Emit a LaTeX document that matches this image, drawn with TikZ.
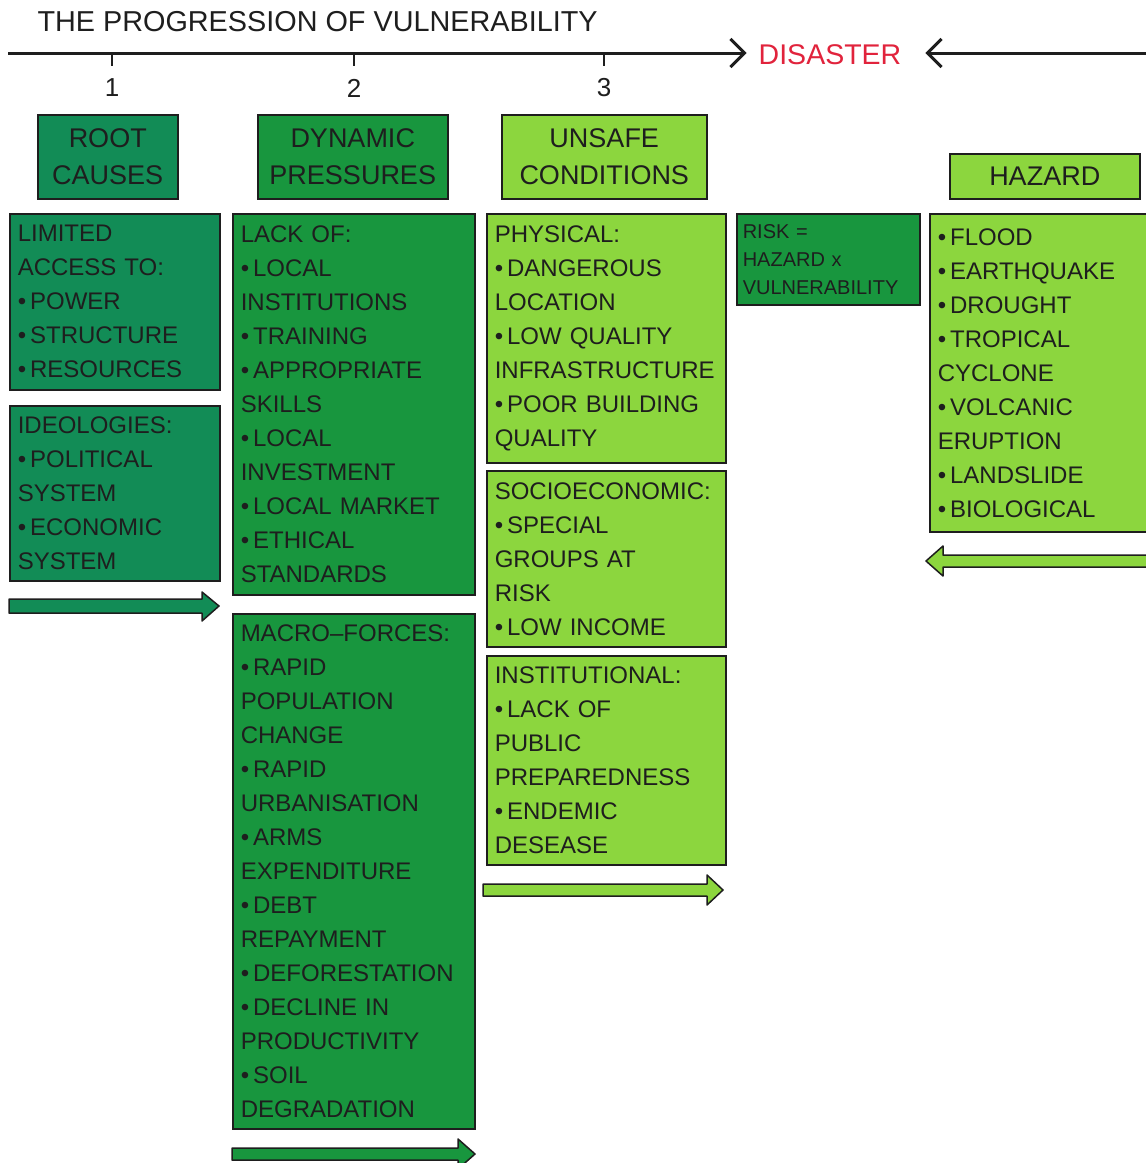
\documentclass[tikz,border=0pt]{standalone}
\usepackage{fontspec}
\setmainfont{Liberation Sans}
\usetikzlibrary{arrows.meta}

\definecolor{rootgreen}{RGB}{18,140,86}
\definecolor{dyngreen}{RGB}{24,150,62}
\definecolor{litegreen}{RGB}{140,214,62}
\definecolor{inkdark}{RGB}{30,30,30}
\definecolor{disred}{RGB}{225,35,60}

\newcommand{\bul}{\textbullet\hspace{4pt}}

\tikzset{
  headbox/.style={draw=inkdark, line width=1.5pt, anchor=north west, inner sep=0pt, align=center, text=inkdark, font=\fontsize{27}{37}\selectfont},
  listbox/.style={draw=inkdark, line width=1.5pt, anchor=north west, inner xsep=8pt, inner ysep=0pt, align=left, text=inkdark, font=\fontsize{24}{34}\selectfont},
  fatarrow/.style={draw=inkdark, line width=1.5pt, line join=round},
  timeline/.style={line width=3pt, draw=inkdark, -{Straight Barb[length=14pt,width=28pt,line width=3pt]}}
}

\begin{document}
\begin{tikzpicture}[x=1pt,y=1pt,yscale=-1]
	\fill[white] (0,0) rectangle (1146,1163);
	\useasboundingbox (0,0) rectangle (1146,1163);
	
	% title and time line
	\node[anchor=west, text=inkdark, font=\fontsize{28.8}{32}\selectfont] (title) at (34,22) {THE PROGRESSION OF VULNERABILITY};
	\node[text=disred, inner xsep=12pt, font=\fontsize{28.5}{32}\selectfont] (disaster) at (830,55) {DISASTER};
	\coordinate (tl start) at (8,53);
	\coordinate (tr start) at (1150,53);
	\draw[timeline] (tl start) -- (tl start -| disaster.west);
	\draw[timeline, shorten >=12pt] (tr start) -- (tr start -| disaster.east);
	\foreach \x/\n in {112/1,354/2,604/3} {
		\draw[line width=2pt, inkdark] (\x,53) -- (\x,66);
		\node[text=inkdark, font=\fontsize{26}{30}\selectfont] (num\n) at (\x,88) {\n};
	}
	
	% column headers
	\node[headbox, fill=rootgreen, minimum width=140pt, minimum height=84pt] (root) at (37,114) {ROOT\\CAUSES};
	\node[headbox, fill=dyngreen, minimum width=190pt, minimum height=84pt] (dyn) at (257,114) {DYNAMIC\\PRESSURES};
	\node[headbox, fill=litegreen, minimum width=205pt, minimum height=84pt] (unsafe) at (501,114) {UNSAFE\\CONDITIONS};
	\node[headbox, fill=litegreen, minimum width=190pt, minimum height=45pt] (hazard) at (949,153) {HAZARD};
	
	% root causes
	\node[listbox, fill=rootgreen, text width=194pt, minimum height=176pt] (limited) at (9,213) {LIMITED\\ACCESS TO:\\\bul POWER\\\bul STRUCTURE\\\bul RESOURCES};
	\node[listbox, fill=rootgreen, text width=194pt, minimum height=175pt] (ideol) at (9,405) {IDEOLOGIES:\\\bul POLITICAL\\SYSTEM\\\bul ECONOMIC\\SYSTEM};
	\draw[fatarrow, fill=rootgreen] (9,599) -- (202,599) -- (202,592) -- (219,606) -- (202,621) -- (202,613) -- (9,613) -- cycle;
	
	% dynamic pressures
	\node[listbox, fill=dyngreen, text width=226pt, minimum height=381pt] (lack) at (232,213) {LACK OF:\\\bul LOCAL\\INSTITUTIONS\\\bul TRAINING\\\bul APPROPRIATE\\SKILLS\\\bul LOCAL\\INVESTMENT\\\bul LOCAL MARKET\\\bul ETHICAL\\STANDARDS};
	\node[listbox, fill=dyngreen, text width=226pt, minimum height=515pt] (macro) at (232,613) {MACRO--FORCES:\\\bul RAPID\\POPULATION\\CHANGE\\\bul RAPID\\URBANISATION\\\bul ARMS\\EXPENDITURE\\\bul DEBT\\REPAYMENT\\\bul DEFORESTATION\\\bul DECLINE IN\\PRODUCTIVITY\\\bul SOIL\\DEGRADATION};
	\draw[fatarrow, fill=dyngreen] (232,1148) -- (458,1148) -- (458,1139) -- (475,1154) -- (458,1169) -- (458,1160) -- (232,1160) -- cycle;
	
	% unsafe conditions
	\node[listbox, fill=litegreen, text width=223pt, minimum height=249pt] (physical) at (486,213) {PHYSICAL:\\\bul DANGEROUS\\LOCATION\\\bul LOW QUALITY\\INFRASTRUCTURE\\\bul POOR BUILDING\\QUALITY};
	\node[listbox, fill=litegreen, text width=223pt, minimum height=176pt] (socio) at (486,470) {SOCIOECONOMIC:\\\bul SPECIAL\\GROUPS AT\\RISK\\\bul LOW INCOME};
	\node[listbox, fill=litegreen, text width=223pt, minimum height=209pt] (instit) at (486,655) {INSTITUTIONAL:\\\bul LACK OF\\PUBLIC\\PREPAREDNESS\\\bul ENDEMIC\\DESEASE};
	\draw[fatarrow, fill=litegreen] (483,884) -- (707,884) -- (707,875) -- (723,890) -- (707,905) -- (707,896) -- (483,896) -- cycle;
	
	% risk
	\node[listbox, fill=dyngreen, inner xsep=6pt, text width=171pt, minimum height=91pt, font=\fontsize{20}{28}\selectfont] (risk) at (736,213) {RISK =\\HAZARD x\\VULNERABILITY};
	
	% hazards
	\node[listbox, fill=litegreen, text width=214pt, minimum height=318pt] (hazlist) at (929,213) {\bul FLOOD\\\bul EARTHQUAKE\\\bul DROUGHT\\\bul TROPICAL\\CYCLONE\\\bul VOLCANIC\\ERUPTION\\\bul LANDSLIDE\\\bul BIOLOGICAL};
	\draw[fatarrow, fill=litegreen] (1155,555) -- (943,555) -- (943,546) -- (926,561) -- (943,576) -- (943,567) -- (1155,567) -- cycle;
\end{tikzpicture}
\end{document}
